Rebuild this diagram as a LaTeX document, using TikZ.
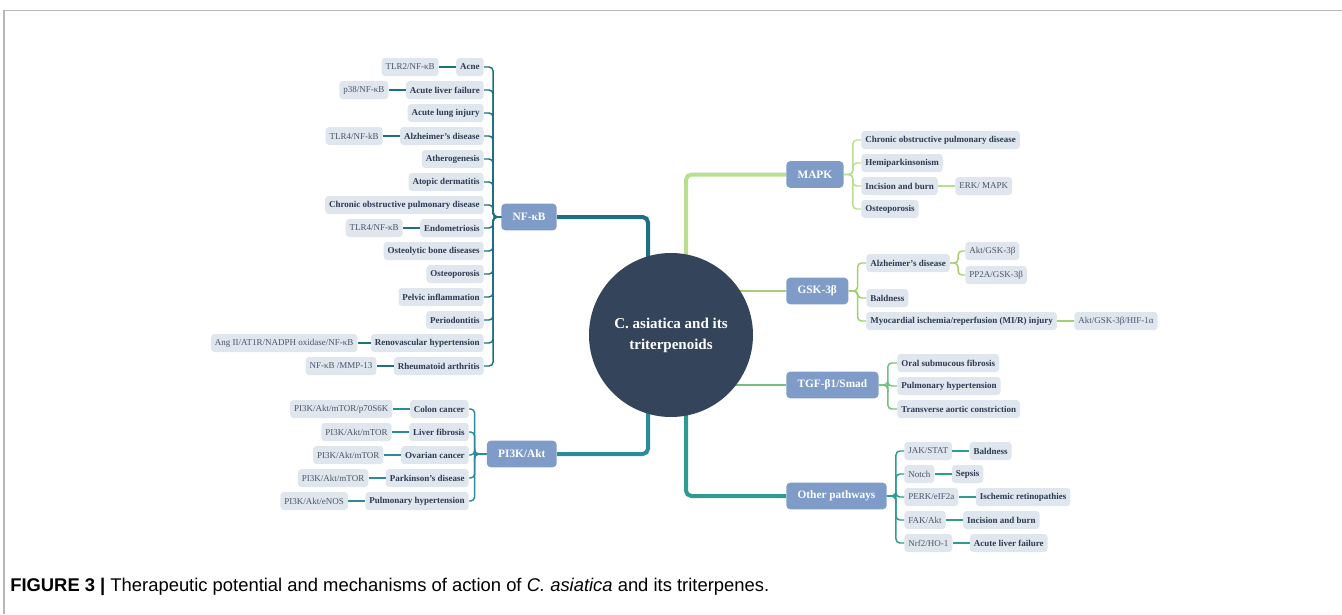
\documentclass[tikz,border=0pt]{standalone}
\usepackage{fontspec}
\setmainfont{Liberation Serif}
\newfontfamily\capfont{Liberation Sans}
\usetikzlibrary{positioning,backgrounds}

\definecolor{hubnavy}{HTML}{34445A}
\definecolor{pathblue}{HTML}{7F9BC8}
\definecolor{leafgray}{HTML}{DFE6EE}
\definecolor{leaftext}{HTML}{2C3B52}
\definecolor{mechtext}{HTML}{4A5568}
\definecolor{nfteal}{HTML}{1D7082}
\definecolor{piteal}{HTML}{2A8B9B}
\definecolor{mapkgreen}{HTML}{B9DE90}
\definecolor{gskgreen}{HTML}{A5D070}
\definecolor{tgfgreen}{HTML}{74C17F}
\definecolor{othteal}{HTML}{2D9C8E}

\tikzset{
  hub/.style = {circle, fill=hubnavy, text=white, minimum size=123pt, inner sep=0pt, align=center,
    font=\bfseries\fontsize{11.25}{15.75}\selectfont},
  pathway/.style = {rounded corners=3pt, fill=pathblue, text=white, minimum height=20pt, inner xsep=8.5pt,
    font=\bfseries\fontsize{8.5}{10}\selectfont},
  disease/.style = {rounded corners=2.5pt, fill=leafgray, text=leaftext, minimum height=13.5pt,
    inner xsep=3pt, inner ysep=0pt, font=\bfseries\fontsize{6.75}{8}\selectfont},
  mech/.style = {disease, text=mechtext, font=\fontsize{6.75}{8}\selectfont},
  trunk/.style = {line width=3pt, rounded corners=4pt},
  twig/.style = {line width=1.1pt, rounded corners=3pt},
}

\begin{document}
\begin{tikzpicture}[x=0.75pt, y=-0.75pt, node distance=12.75pt]
    \useasboundingbox (0,0) rectangle (1342,614);
    \draw[gray!55, line width=1.2pt] (1342,10.5) -- (4,10.5) -- (4,614);

    \node[hub] (c) at (671,335) {C. asiatica and its\\triterpenoids};

    % pathways
    \node[pathway, anchor=east] (nfkb) at (557,217) {NF-κB};
    \node[pathway, anchor=east] (pi3k) at (557,454) {PI3K/Akt};
    \node[pathway, anchor=west] (mapk) at (786,174.5) {MAPK};
    \node[pathway, anchor=west] (gsk) at (786,291) {GSK-3β};
    \node[pathway, anchor=west] (tgf) at (786,385) {TGF-β1/Smad};
    \node[pathway, anchor=west] (other) at (786,496) {Other pathways};

    \begin{scope}[on background layer]
        \draw[trunk, nfteal] (nfkb.east) -| ([xshift=-17.25pt]c.center);
        \draw[trunk, piteal] (pi3k.east) -| ([xshift=-17.25pt]c.center);
        \draw[trunk, mapkgreen] (mapk.west) -| ([xshift=11.25pt]c.center);
        \draw[trunk, gskgreen, line width=2pt] (gsk.west) -- (gsk.west -| c.center);
        \draw[trunk, tgfgreen, line width=2pt] (tgf.west) -- (tgf.west -| c.center);
        \draw[trunk, othteal] (other.west) -| ([xshift=11.25pt]c.center);
    \end{scope}

    % NF-kB
    \node[disease, anchor=east] (acne) at (484,67) {Acne};
    \node[disease, anchor=east] (alf) at (484,90) {Acute liver failure};
    \node[disease, anchor=east] (ali) at (484,113) {Acute lung injury};
    \node[disease, anchor=east] (ad) at (484,136) {Alzheimer’s disease};
    \node[disease, anchor=east] (ath) at (484,159) {Atherogenesis};
    \node[disease, anchor=east] (atd) at (484,182) {Atopic dermatitis};
    \node[disease, anchor=east] (copd) at (484,205) {Chronic obstructive pulmonary disease};
    \node[disease, anchor=east] (endo) at (484,228) {Endometriosis};
    \node[disease, anchor=east] (obd) at (484,251) {Osteolytic bone diseases};
    \node[disease, anchor=east] (op) at (484,274) {Osteoporosis};
    \node[disease, anchor=east] (pelv) at (484,297) {Pelvic inflammation};
    \node[disease, anchor=east] (perio) at (484,320) {Periodontitis};
    \node[disease, anchor=east] (renov) at (484,343) {Renovascular hypertension};
    \node[disease, anchor=east] (ra) at (484,366) {Rheumatoid arthritis};
    \node[mech, left=of acne] (tlrtwo) {TLR2/NF-κB};
    \node[mech, left=of alf] (pthirtyeight) {p38/NF-κB};
    \node[mech, left=of ad] (tlrfour) {TLR4/NF-kB};
    \node[mech, left=of endo] (tlrfourb) {TLR4/NF-κB};
    \node[mech, left=9.75pt of renov] (angtwo) {Ang II/AT1R/NADPH oxidase/NF-κB};
    \node[mech, left=of ra] (mmp) {NF-κB /MMP-13};
    \foreach \d in {acne,alf,ali,ad,ath,atd,copd,endo,obd,op,pelv,perio,renov,ra}
        \draw[twig, nfteal] (nfkb.west) -- ++(-8,0) |- (\d.east);
    \draw[twig, nfteal] (tlrtwo) -- (acne);
    \draw[twig, nfteal] (pthirtyeight) -- (alf);
    \draw[twig, nfteal] (tlrfour) -- (ad);
    \draw[twig, nfteal] (tlrfourb) -- (endo);
    \draw[twig, nfteal] (angtwo) -- (renov);
    \draw[twig, nfteal] (mmp) -- (ra);

    % PI3K/Akt
    \node[disease, anchor=east] (colon) at (469,409) {Colon cancer};
    \node[disease, anchor=east] (liver) at (469,432) {Liver fibrosis};
    \node[disease, anchor=east] (ovar) at (469,455) {Ovarian cancer};
    \node[disease, anchor=east] (park) at (469,478) {Parkinson’s disease};
    \node[disease, anchor=east] (pulm) at (469,501) {Pulmonary hypertension};
    \node[mech, left=of colon] (pisix) {PI3K/Akt/mTOR/p70S6K};
    \node[mech, left=of liver] (pimtor) {PI3K/Akt/mTOR};
    \node[mech, left=of ovar] (pimtorb) {PI3K/Akt/mTOR};
    \node[mech, left=of park] (pimtorc) {PI3K/Akt/mTOR};
    \node[mech, left=of pulm] (pienos) {PI3K/Akt/eNOS};
    \foreach \d in {colon,liver,ovar,park,pulm}
        \draw[twig, piteal] (pi3k.west) -- ++(-12,0) |- (\d.east);
    \draw[twig, piteal] (pisix) -- (colon);
    \draw[twig, piteal] (pimtor) -- (liver);
    \draw[twig, piteal] (pimtorb) -- (ovar);
    \draw[twig, piteal] (pimtorc) -- (park);
    \draw[twig, piteal] (pienos) -- (pulm);

    % MAPK
    \node[disease, anchor=west] (mcopd) at (861,140) {Chronic obstructive pulmonary disease};
    \node[disease, anchor=west] (hemi) at (861,163) {Hemiparkinsonism};
    \node[disease, anchor=west] (incis) at (861,186) {Incision and burn};
    \node[disease, anchor=west] (mop) at (861,209) {Osteoporosis};
    \node[mech, right=of incis] (erk) {ERK/ MAPK};
    \foreach \d in {mcopd,hemi,incis,mop}
        \draw[twig, mapkgreen] (mapk.east) -- ++(9,0) |- (\d.west);
    \draw[twig, mapkgreen] (incis) -- (erk);

    % GSK-3beta
    \node[disease, anchor=west] (gad) at (866,263) {Alzheimer’s disease};
    \node[disease, anchor=west] (bald) at (866,298) {Baldness};
    \node[disease, anchor=west] (mirj) at (866,321) {Myocardial ischemia/reperfusion (MI/R) injury};
    \node[mech, anchor=west] (aktgsk) at (965,251) {Akt/GSK-3β};
    \node[mech, anchor=west] (ppgsk) at (965,275) {PP2A/GSK-3β};
    \node[mech, right=of mirj] (hif) {Akt/GSK-3β/HIF-1α};
    \foreach \d in {gad,bald,mirj}
        \draw[twig, gskgreen] (gsk.east) -- ++(9,0) |- (\d.west);
    \draw[twig, gskgreen] (gad.east) -- ++(8,0) |- (aktgsk.west);
    \draw[twig, gskgreen] (gad.east) -- ++(8,0) |- (ppgsk.west);
    \draw[twig, gskgreen] (mirj) -- (hif);

    % TGF-beta1/Smad
    \node[disease, anchor=west] (osf) at (897,363) {Oral submucous fibrosis};
    \node[disease, anchor=west] (tpulm) at (897,386) {Pulmonary hypertension};
    \node[disease, anchor=west] (tac) at (897,409) {Transverse aortic constriction};
    \foreach \d in {osf,tpulm,tac}
        \draw[twig, tgfgreen] (tgf.east) -- ++(9,0) |- (\d.west);

    % other pathways
    \node[mech, anchor=west] (jak) at (904,451) {JAK/STAT};
    \node[mech, anchor=west] (notch) at (904,474) {Notch};
    \node[mech, anchor=west] (perk) at (904,497) {PERK/eIF2a};
    \node[mech, anchor=west] (fak) at (904,520) {FAK/Akt};
    \node[mech, anchor=west] (nrf) at (904,543) {Nrf2/HO-1};
    \node[disease, right=of jak] (obald) {Baldness};
    \node[disease, right=of notch] (sepsis) {Sepsis};
    \node[disease, right=of perk] (isch) {Ischemic retinopathies};
    \node[disease, right=of fak] (oincis) {Incision and burn};
    \node[disease, right=of nrf] (oalf) {Acute liver failure};
    \foreach \d in {jak,notch,perk,fak,nrf}
        \draw[twig, othteal] (other.east) -- ++(9,0) |- (\d.west);
    \draw[twig, othteal] (jak) -- (obald);
    \draw[twig, othteal] (notch) -- (sepsis);
    \draw[twig, othteal] (perk) -- (isch);
    \draw[twig, othteal] (fak) -- (oincis);
    \draw[twig, othteal] (nrf) -- (oalf);

    \node[anchor=base west, inner sep=0pt, font=\capfont\fontsize{13.8}{16}\selectfont] (caption) at (10,591.5)
        {\textbf{FIGURE 3 |} Therapeutic potential and mechanisms of action of \textit{C. asiatica} and its triterpenes.};
\end{tikzpicture}
\end{document}
